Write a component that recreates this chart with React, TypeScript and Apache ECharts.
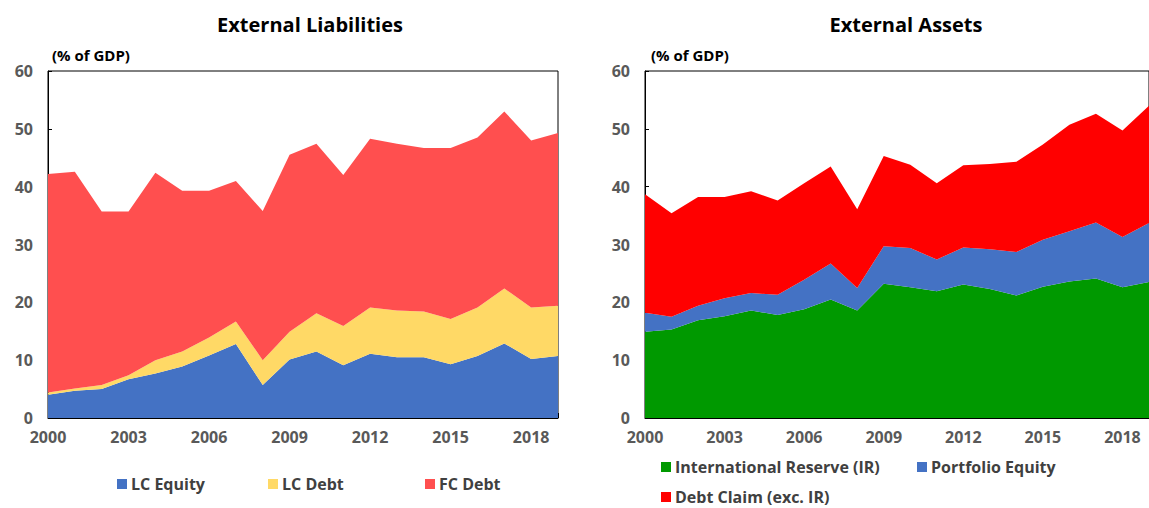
import React, { useEffect, useRef } from "react";
import * as echarts from "echarts";

const years = ["2000","2001","2002","2003","2004","2005","2006","2007","2008","2009","2010","2011","2012","2013","2014","2015","2016","2017","2018","2019"];

// External liabilities (% of GDP)
const lcEquity = [4.0,4.7,5.0,6.7,7.7,8.9,10.8,12.8,5.7,10.1,11.5,9.1,11.1,10.5,10.5,9.3,10.7,12.9,10.2,10.7];
const lcDebt = [0.4,0.4,0.7,0.7,2.3,2.6,3.1,3.9,4.3,4.8,6.6,6.8,8.0,8.1,7.9,7.8,8.4,9.5,8.9,8.7];
const fcDebt = [37.8,37.5,30.0,28.3,32.4,27.8,25.4,24.3,25.8,30.6,29.3,26.1,29.2,28.8,28.3,29.6,29.4,30.6,28.9,29.9];

// External assets (% of GDP)
const intlReserve = [14.9,15.3,16.9,17.6,18.6,17.8,18.8,20.5,18.6,23.2,22.6,21.9,23.1,22.3,21.2,22.7,23.6,24.1,22.6,23.5];
const portfolioEquity = [3.3,2.2,2.5,3.1,3.0,3.5,5.1,6.2,3.9,6.5,6.8,5.5,6.4,6.9,7.5,8.1,8.7,9.7,8.7,10.2];
const debtClaim = [20.5,17.9,18.8,17.5,17.6,16.3,16.7,16.8,13.6,15.6,14.4,13.2,14.2,14.7,15.6,16.5,18.4,18.8,18.4,20.3];

const FONT = "'Open Sans', 'Noto Sans', sans-serif";
const GRAY = "#595959";

function xAxis(gridIndex: number) {
  return {
    type: "category",
    gridIndex,
    data: years,
    boundaryGap: false,
    axisLine: { show: true, lineStyle: { color: "#000", width: 1 } },
    axisTick: { show: true, inside: true, interval: 0, length: 5, lineStyle: { color: "#000" } },
    axisLabel: { interval: 2, color: GRAY, fontFamily: FONT, fontWeight: "bold", fontSize: 16, margin: 11 },
    splitLine: { show: false },
  };
}

function yAxis(gridIndex: number) {
  return {
    type: "value",
    gridIndex,
    min: 0,
    max: 60,
    interval: 10,
    axisLine: { show: true, lineStyle: { color: "#000", width: 1 } },
    axisTick: { show: true, inside: true, length: 4, lineStyle: { color: "#000" } },
    axisLabel: { color: GRAY, fontFamily: FONT, fontWeight: "bold", fontSize: 16, margin: 15 },
    splitLine: { show: false },
  };
}

function area(name: string, data: number[], color: string, idx: number, stack: string) {
  return {
    name,
    type: "line",
    data,
    stack,
    xAxisIndex: idx,
    yAxisIndex: idx,
    showSymbol: false,
    symbol: "none",
    lineStyle: { width: 0, color },
    itemStyle: { color },
    areaStyle: { color, opacity: 1 },
  };
}

function legend(name: string, left: number, top: number) {
  return {
    data: [name],
    left,
    top,
    orient: "horizontal",
    icon: "rect",
    itemWidth: 10,
    itemHeight: 10,
    itemGap: 0,
    padding: 0,
    selectedMode: false,
    textStyle: { color: "#404040", fontFamily: FONT, fontWeight: "bold", fontSize: 16, padding: [0, 0, 0, -1] },
  };
}

export default function App() {
  const ref = useRef<HTMLDivElement>(null);
  useEffect(() => {
    if (!ref.current) return;
    const chart = echarts.init(ref.current, null, { renderer: "svg" });
    chart.setOption({
      animation: false,
      backgroundColor: "#fff",
      grid: [
        { left: 48, top: 71, width: 510, height: 347, show: true, borderColor: "#000", borderWidth: 1, backgroundColor: "transparent" },
        { left: 645, top: 71, width: 510, height: 347, show: true, borderColor: "#000", borderWidth: 1, backgroundColor: "transparent" },
      ],
      xAxis: [xAxis(0), xAxis(1)],
      yAxis: [yAxis(0), yAxis(1)],
      legend: [
        legend("LC Equity", 117, 476),
        legend("LC Debt", 268, 476),
        legend("FC Debt", 425, 476),
        legend("International Reserve (IR)", 661, 459),
        legend("Portfolio Equity", 917, 459),
        legend("Debt Claim (exc. IR)", 661, 489),
      ],
      graphic: [
        { type: "text", x: 310, y: 24, style: { text: "External Liabilities", fontFamily: FONT, fontWeight: "bold", fontSize: 20, fill: "#000", textAlign: "center", textVerticalAlign: "middle" } },
        { type: "text", x: 906, y: 24, style: { text: "External Assets", fontFamily: FONT, fontWeight: "bold", fontSize: 20, fill: "#000", textAlign: "center", textVerticalAlign: "middle" } },
        { type: "text", x: 52, y: 55, style: { text: "(% of GDP)", fontFamily: FONT, fontWeight: "bold", fontSize: 15, fill: "#000", textAlign: "left", textVerticalAlign: "middle" } },
        { type: "text", x: 651, y: 55, style: { text: "(% of GDP)", fontFamily: FONT, fontWeight: "bold", fontSize: 15, fill: "#000", textAlign: "left", textVerticalAlign: "middle" } },
      ],
      series: [
        area("LC Equity", lcEquity, "#4472C4", 0, "L"),
        area("LC Debt", lcDebt, "#FFD966", 0, "L"),
        area("FC Debt", fcDebt, "#FF4F4F", 0, "L"),
        area("International Reserve (IR)", intlReserve, "#009900", 1, "A"),
        area("Portfolio Equity", portfolioEquity, "#4472C4", 1, "A"),
        area("Debt Claim (exc. IR)", debtClaim, "#FF0000", 1, "A"),
      ],
    });
    return () => chart.dispose();
  }, []);
  return <div ref={ref} style={{ position: "fixed", left: 0, top: 0, width: 1149, height: 508 }} />;
}
